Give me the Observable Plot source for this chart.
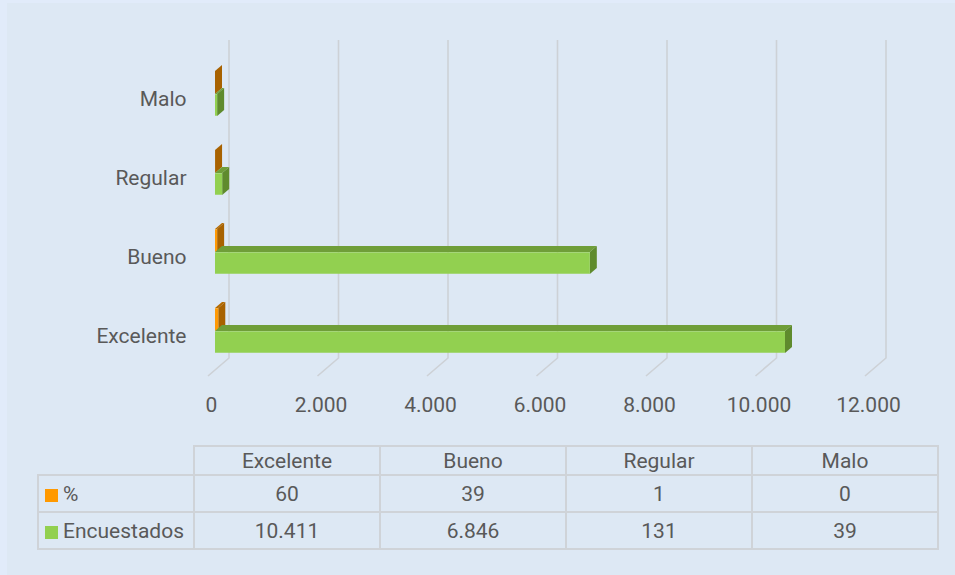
<!DOCTYPE html>
<html>
<head>
<meta charset="utf-8">
<script src="https://cdn.jsdelivr.net/npm/d3@7"></script>
<script src="https://cdn.jsdelivr.net/npm/@observablehq/plot@0.6"></script>
<style>
html,body{margin:0;padding:0;width:955px;height:575px;overflow:hidden;background:#e1ebfa;}
#frame{position:absolute;left:7px;top:3px;width:948px;height:572px;background:#dde8f4;}
#chart{position:absolute;left:0;top:0;}
#tbl{position:absolute;left:37px;top:445px;width:901px;table-layout:fixed;border-collapse:collapse;font-family:Roboto,sans-serif;font-size:21px;color:#595959;}
#tbl td{border:2px solid #cfd3d8;text-align:center;padding:0;white-space:nowrap;}
#tbl tr.hdr td{height:27px;}
#tbl tr.row td{height:35px;}
#tbl td.corner{border-top:none;border-left:none;}
#tbl td.lab{text-align:left;padding-left:6px;}
.sw{display:inline-block;width:13px;height:13px;margin-right:5px;vertical-align:-1px;}
</style>
</head>
<body>
<div id="frame"></div>
<div id="chart"></div>
<table id="tbl"></table>
<script>
// ---- data ----
const categories = ["Excelente", "Bueno", "Regular", "Malo"];
const yOrder = ["Malo", "Regular", "Bueno", "Excelente"];
const pctValues = [60, 39, 1, 0];
const encuestadosValues = [10411, 6846, 131, 39];
const pctLabels = ["60", "39", "1", "0"];
const encuestadosLabels = ["10.411", "6.846", "131", "39"];
const xTicks = [0, 2000, 4000, 6000, 8000, 10000, 12000];
const xTickLabels = ["0", "2.000", "4.000", "6.000", "8.000", "10.000", "12.000"];
const seriesNames = ["%", "Encuestados"];

// ---- styles ----
const W = 955, H = 430, MT = 58, MB = 54, ML = 215, MR = 83;
const BW = (H - MT - MB) / yOrder.length;
const DX = 7, DY = 6;          // bar depth
const WX = 14, WY = 18;        // back wall offset
const gridColor = "#cdd1d6";
const seriesStyle = [
  {y0: -27.5, y1: -4.5, front: "#ff9a05", top: "#b36a00", side: "#a86200", swatch: "#ff9900"},
  {y0: -4.5, y1: 17.5, front: "#92d050", top: "#6f9e38", side: "#5f8b2d", swatch: "#92d050"}
];
const seriesValues = [pctValues, encuestadosValues];

function grid() {
  return (index, scales) => {
    const x = scales.x;
    const g = d3.create("svg:g").attr("stroke", gridColor).attr("stroke-width", 1.6).attr("fill", "none");
    const yTop = MT - WY, yBack = H - MB - WY, yFront = H - MB;
    for (const v of xTicks) {
      const xb = x(v) + WX, xf = x(v) - 7;
      g.append("path").attr("d", `M${xb},${yTop}L${xb},${yBack}L${xf},${yFront}`);
    }
    return g.node();
  };
}

function faces(k) {
  const s = seriesStyle[k], vals = seriesValues[k];
  return (index, scales) => {
    const x = scales.x, y = scales.y;
    const bw = y.bandwidth ? y.bandwidth() : BW;
    const g = d3.create("svg:g");
    categories.forEach((c, i) => {
      const cy = y(c) + bw / 2;
      const x0 = x(0), x1 = x(vals[i]);
      const ya = cy + s.y0, yb = cy + s.y1;
      g.append("path").attr("fill", s.top)
        .attr("d", `M${x0},${ya}L${x1},${ya}L${x1 + DX},${ya - DY}L${x0 + DX},${ya - DY}Z`);
      g.append("path").attr("fill", s.side)
        .attr("d", `M${x1},${ya}L${x1 + DX},${ya - DY}L${x1 + DX},${yb - DY}L${x1},${yb}Z`);
    });
    return g.node();
  };
}

function fronts(k) {
  const s = seriesStyle[k], vals = seriesValues[k];
  const rows = categories.map((c, i) => ({cat: c, value: vals[i]}));
  return Plot.barX(rows, {
    x: "value", y: "cat", fill: s.front,
    insetTop: BW / 2 + s.y0, insetBottom: BW / 2 - s.y1
  });
}

const chart = Plot.plot({
  width: W, height: H,
  marginTop: MT, marginBottom: MB, marginLeft: ML, marginRight: MR,
  style: {fontFamily: "Roboto, sans-serif", fontSize: "21px", color: "#595959", background: "transparent", overflow: "visible"},
  x: {domain: [0, 12000]},
  y: {domain: yOrder, padding: 0},
  marks: [
    grid(),
    faces(0), fronts(0),
    faces(1), fronts(1),
    Plot.axisX({ticks: xTicks, tickSize: 0, tickPadding: 21, dx: -4, label: null,
      tickFormat: d => xTickLabels[xTicks.indexOf(d)]}),
    Plot.axisY({tickSize: 0, tickPadding: 29, label: null})
  ]
});
document.getElementById("chart").appendChild(chart);

// ---- data table ----
const tbl = d3.select("#tbl");
const cg = tbl.append("colgroup");
cg.append("col").style("width", "156px");
categories.forEach(() => cg.append("col").style("width", "186px"));
const hdr = tbl.append("tr").attr("class", "hdr");
hdr.append("td").attr("class", "corner");
categories.forEach(c => hdr.append("td").text(c));
[pctLabels, encuestadosLabels].forEach((labels, k) => {
  const tr = tbl.append("tr").attr("class", "row");
  const lab = tr.append("td").attr("class", "lab");
  lab.append("span").attr("class", "sw").style("background", seriesStyle[k].swatch);
  lab.append("span").text(seriesNames[k]);
  labels.forEach(l => tr.append("td").text(l));
});
</script>
</body>
</html>
